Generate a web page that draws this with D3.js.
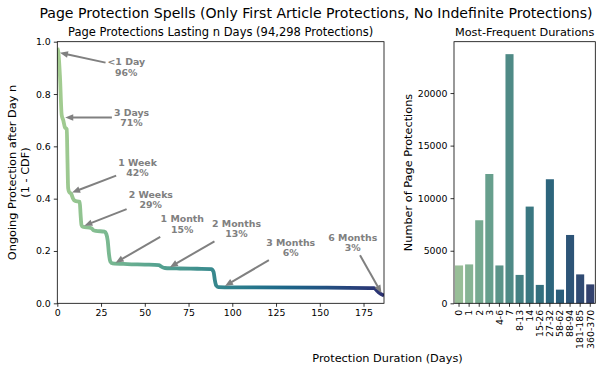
<!DOCTYPE html>
<html>
<head>
<meta charset="utf-8">
<script src="https://cdn.jsdelivr.net/npm/d3@7"></script>
<style>
  body { margin: 0; background: #fff; }
  svg { display: block; font-family: "DejaVu Sans", sans-serif; }
</style>
</head>
<body>
<svg id="chart" width="598" height="374"></svg>
<script>
// Share of protections still running after n days (1 - CDF)
const curveDays  = [0, 0.6, 1.5, 2.5, 3.4, 4.4, 5.4, 5.8, 6.2, 6.8, 8, 9, 10, 12.8, 13.3, 13.8, 14.5, 19.5, 20.5, 22,
                    27, 28, 28.8, 29.5, 30.3, 31.5, 40, 50, 58, 59.5, 61.5, 70, 80, 88, 89.3, 90, 90.8, 92, 100, 150,
                    181, 182.5, 184, 186.7];
const curveShare = [0.975, 0.96, 0.87, 0.72, 0.70, 0.672, 0.666, 0.55, 0.44, 0.425, 0.418, 0.40, 0.392, 0.388, 0.34, 0.30, 0.293, 0.287, 0.28, 0.277,
                    0.274, 0.265, 0.24, 0.19, 0.16, 0.153, 0.15, 0.148, 0.146, 0.14, 0.135, 0.133, 0.132, 0.131, 0.12, 0.09, 0.068, 0.062, 0.061, 0.060,
                    0.058, 0.05, 0.04, 0.030];

// Callouts on the curve
const noteNames = ["<1 Day", "3 Days", "1 Week", "2 Weeks", "1 Month", "2 Months", "3 Months", "6 Months"];
const notePcts  = ["96%", "71%", "42%", "29%", "15%", "13%", "6%", "3%"];
const noteDays  = [0, 3, 7, 14, 32, 63, 94.5, 186];
const noteShare = [0.96, 0.71, 0.42, 0.293, 0.15, 0.133, 0.061, 0.03];
// where each callout text sits, relative to the point (px)
const noteOffsets = [[69, 15], [69, 0], [68, -26], [69, -27], [69, -40], [69, -40], [68, -40], [-30, -53]];

// Most frequent durations
const durationBins   = ["0", "1", "2", "3", "4-6", "7", "8-13", "14", "15-26", "27-32", "58-62", "88-94", "181-185", "360-370"];
const durationCounts = [3600, 3700, 7900, 12300, 3600, 23700, 2700, 9200, 1750, 11800, 1300, 6500, 2750, 1800];

const shareTicks = [0, 0.2, 0.4, 0.6, 0.8, 1.0];
const dayTicks   = [0, 25, 50, 75, 100, 125, 150, 175];
const countTicks = [0, 5000, 10000, 15000, 20000];

// seaborn "crest"
const crestStops = ["#a5cd90", "#7dba91", "#59a590", "#40908e", "#287a8c", "#1c6488", "#254b7f", "#2c3172"];
const crest = d3.piecewise(d3.interpolateRgb, crestStops);

let svg = d3.select("#chart");
const axTop = 41.7, axBottom = 303.3;
const left1 = 57.3, right1 = 384;
const left2 = 454, right2 = 595.3;
const tickFont = 9.4, labelFont = 11.3;

let xDay = d3.scaleLinear().domain([0, 186.7]).range([left1, right1]);
let yShare = d3.scaleLinear().domain([0, 1]).range([axBottom, axTop]);

let xBin = d3.scaleBand().domain(durationBins).range([left2, right2]).paddingInner(0.2).paddingOuter(0.1);
let yCount = d3.scaleLinear().domain([0, d3.max(durationCounts) * 1.05]).range([axBottom, axTop]);

// Titles
svg.append("text").attr("x", 316).attr("y", 18.3).attr("text-anchor", "middle")
    .attr("font-size", 14.1).text("Page Protection Spells (Only First Article Protections, No Indefinite Protections)");
svg.append("text").attr("x", (left1 + right1) / 2).attr("y", 36).attr("text-anchor", "middle")
    .attr("font-size", 11.5).text("Page Protections Lasting n Days (94,298 Protections)");
svg.append("text").attr("x", (left2 + right2) / 2).attr("y", 36).attr("text-anchor", "middle")
    .attr("font-size", labelFont).text("Most-Frequent Durations");
svg.append("text").attr("x", 387.5).attr("y", 361.5).attr("text-anchor", "middle")
    .attr("font-size", labelFont).text("Protection Duration (Days)");

// ---- left panel: survival curve ----
let defs = svg.append("defs");
let grad = defs.append("linearGradient").attr("id", "crestLine")
    .attr("gradientUnits", "userSpaceOnUse")
    .attr("x1", xDay(0)).attr("x2", xDay(186.7)).attr("y1", 0).attr("y2", 0);
d3.range(0, 1.0001, 0.05).forEach(t => {
    grad.append("stop").attr("offset", t).attr("stop-color", crest(t));
});
defs.append("clipPath").attr("id", "clipLeft").append("rect")
    .attr("x", left1).attr("y", axTop).attr("width", right1 - left1).attr("height", axBottom - axTop);

let curvePoints = curveDays.map((d, i) => [d, curveShare[i]]);
let curveLine = d3.line().x(d => xDay(d[0])).y(d => yShare(d[1])).curve(d3.curveMonotoneX);

svg.append("path")
    .attr("clip-path", "url(#clipLeft)")
    .attr("d", curveLine(curvePoints))
    .attr("fill", "none")
    .attr("stroke", "url(#crestLine)")
    .attr("stroke-width", 3.8)
    .attr("stroke-linejoin", "round");

// callouts
let notes = svg.append("g").attr("fill", "gray").attr("font-weight", "bold").attr("font-size", tickFont);
noteNames.forEach((name, i) => {
    let px = xDay(noteDays[i]), py = yShare(noteShare[i]);
    let cx = px + noteOffsets[i][0], cy = py + noteOffsets[i][1];

    let t = notes.append("text").attr("text-anchor", "middle");
    t.append("tspan").attr("x", cx).attr("y", cy - 1.8).text(name);
    t.append("tspan").attr("x", cx).attr("y", cy + 8.8).text(notePcts[i]);

    // arrow from the text box edge to the point
    let b = t.node().getBBox(), pad = 2;
    let dx = px - cx, dy = py - cy;
    let ts = [];
    if (dx !== 0) ts.push(((dx > 0 ? b.x + b.width + pad : b.x - pad) - cx) / dx);
    if (dy !== 0) ts.push(((dy > 0 ? b.y + b.height + pad : b.y - pad) - cy) / dy);
    let s = d3.min(ts);
    let sx = cx + s * dx, sy = cy + s * dy;
    let len = Math.hypot(dx, dy), ux = dx / len, uy = dy / len;
    let tipX = px - 2.7 * ux, tipY = py - 2.7 * uy;
    let headLen = 8, headW = 3.3;
    let baseX = tipX - headLen * ux, baseY = tipY - headLen * uy;

    notes.append("line")
        .attr("x1", sx).attr("y1", sy).attr("x2", baseX + ux).attr("y2", baseY + uy)
        .attr("stroke", "gray").attr("stroke-width", 2);
    notes.append("path")
        .attr("d", "M" + tipX + "," + tipY +
            "L" + (baseX - uy * headW) + "," + (baseY + ux * headW) +
            "L" + (baseX + uy * headW) + "," + (baseY - ux * headW) + "Z")
        .attr("fill", "gray");
});

// axes for left panel
let xAxis1 = svg.append("g").attr("transform", "translate(0," + axBottom + ")")
    .call(d3.axisBottom(xDay).tickValues(dayTicks).tickSize(3.5).tickPadding(3).tickFormat(d3.format("d")));
let yAxis1 = svg.append("g").attr("transform", "translate(" + left1 + ",0)")
    .call(d3.axisLeft(yShare).tickValues(shareTicks).tickSize(3.5).tickPadding(3).tickFormat(d3.format(".1f")));
[xAxis1, yAxis1].forEach(a => {
    a.select(".domain").remove();
    a.selectAll("text").attr("font-size", tickFont).attr("font-family", "DejaVu Sans").attr("fill", "#000");
    a.selectAll("line").attr("stroke", "#000").attr("stroke-width", 0.8);
});
svg.append("rect").attr("x", left1).attr("y", axTop).attr("width", right1 - left1).attr("height", axBottom - axTop)
    .attr("fill", "none").attr("stroke", "#000").attr("stroke-width", 0.8);

let yLab1 = svg.append("text").attr("text-anchor", "middle").attr("font-size", labelFont)
    .attr("transform", "translate(15.5," + (axTop + axBottom) / 2 + ") rotate(-90)");
yLab1.append("tspan").attr("x", 0).attr("y", 0).text("Ongoing Protection after Day n");
yLab1.append("tspan").attr("x", 0).attr("y", 13.2).text("(1 - CDF)");

// ---- right panel: bars ----
svg.append("g").selectAll("rect")
    .data(durationBins)
    .enter()
    .append("rect")
    .attr("x", d => xBin(d))
    .attr("width", xBin.bandwidth())
    .attr("y", (d, i) => yCount(durationCounts[i]))
    .attr("height", (d, i) => axBottom - yCount(durationCounts[i]))
    .attr("fill", (d, i) => {
        let c = d3.hsl(crest((i + 1) / (durationBins.length + 1)));
        c.s *= 0.75;
        return c.formatHex();
    });

let xAxis2 = svg.append("g").attr("transform", "translate(0," + axBottom + ")")
    .call(d3.axisBottom(xBin).tickSize(3.5).tickPadding(3));
xAxis2.selectAll("text")
    .attr("text-anchor", "end")
    .attr("transform", "rotate(-90)")
    .attr("x", -6.5).attr("y", 0).attr("dy", "0.35em");
let yAxis2 = svg.append("g").attr("transform", "translate(" + left2 + ",0)")
    .call(d3.axisLeft(yCount).tickValues(countTicks).tickSize(3.5).tickPadding(3).tickFormat(d3.format("d")));
[xAxis2, yAxis2].forEach(a => {
    a.select(".domain").remove();
    a.selectAll("text").attr("font-size", tickFont).attr("font-family", "DejaVu Sans").attr("fill", "#000");
    a.selectAll("line").attr("stroke", "#000").attr("stroke-width", 0.8);
});
svg.append("rect").attr("x", left2).attr("y", axTop).attr("width", right2 - left2).attr("height", axBottom - axTop)
    .attr("fill", "none").attr("stroke", "#000").attr("stroke-width", 0.8);

svg.append("text").attr("text-anchor", "middle").attr("font-size", labelFont)
    .attr("transform", "translate(411.5," + (axTop + axBottom) / 2 + ") rotate(-90)")
    .text("Number of Page Protections");
</script>
</body>
</html>
